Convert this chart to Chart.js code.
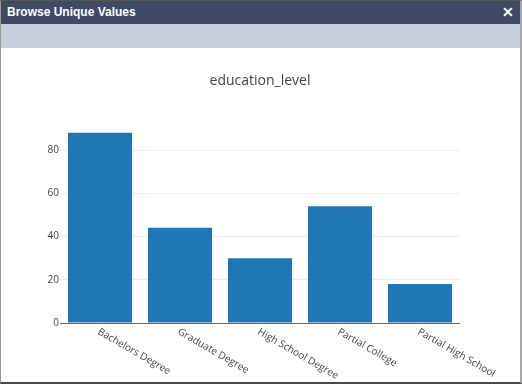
<!DOCTYPE html>
<html>
<head>
<meta charset="utf-8">
<script src="https://cdn.jsdelivr.net/npm/chart.js@4"></script>
<style>
  html, body { margin: 0; padding: 0; background: #fff; }
  #frame { position: absolute; left: 0; top: 0; width: 522px; height: 384px; box-sizing: border-box;
           border-left: 1px solid #9a9a9a; border-right: 2px solid #a8a8a8; border-top: 1px solid #555;
           border-bottom: 2px solid #4a4a4a; background: #fff; overflow: hidden; }
  #hdr { position: absolute; left: 0; top: 0; width: 519px; height: 23px; background: #3e4b67;
         color: #fff; font: bold 12px "Liberation Sans", Arial, sans-serif; }
  #hdr .t { position: absolute; left: 6px; top: 4px; }
  #hdr .x { position: absolute; right: 6px; top: 3px; font-size: 14px; }
  #bar { position: absolute; left: 0; top: 23px; width: 519px; height: 24px; background: #c8cfdc; }
  #wrap { position: absolute; left: 0; top: 47px; width: 518px; height: 334px; }
</style>
</head>
<body>
<div id="frame">
  <div id="hdr"><span class="t">Browse Unique Values</span><span class="x">&#x2715;</span></div>
  <div id="bar"></div>
  <div id="wrap"><canvas id="c" width="518" height="334"></canvas></div>
</div>
<script>
const categories = ["Bachelors Degree", "Graduate Degree", "High School Degree", "Partial College", "Partial High School"];
const counts = [88, 44, 30, 54, 18];
const yTicks = [0, 20, 40, 60, 80];
const chartTitle = "education_level";

const rotatedLabels = {
  id: 'rotatedLabels',
  afterDraw(chart) {
    const ctx = chart.ctx;
    const xs = chart.scales.x;
    const yBase = chart.chartArea.bottom;
    ctx.save();
    ctx.font = '10px "Open Sans"';
    ctx.fillStyle = '#444';
    ctx.textAlign = 'left';
    ctx.textBaseline = 'middle';
    categories.forEach((lab, i) => {
      const px = xs.getPixelForTick(i);
      ctx.save();
      ctx.translate(px - 1.5, yBase + 8);
      ctx.rotate(Math.PI / 6);
      ctx.fillText(lab, 0, 0);
      ctx.restore();
    });
    ctx.restore();
  }
};

new Chart(document.getElementById('c'), {
  type: 'bar',
  data: {
    labels: categories,
    datasets: [{
      data: counts,
      backgroundColor: '#1f77b4',
      borderWidth: 0,
      categoryPercentage: 0.8,
      barPercentage: 1.0
    }]
  },
  options: {
    responsive: false,
    animation: false,
    devicePixelRatio: 1,
    layout: { padding: 0 },
    plugins: {
      legend: { display: false },
      tooltip: { enabled: false },
      title: {
        display: true,
        text: chartTitle,
        color: '#444',
        font: { family: 'Open Sans', size: 14, weight: 'normal', lineHeight: 1.2 },
        padding: { top: 24.3, bottom: 33.6 }
      }
    },
    scales: {
      x: {
        grid: { display: false },
        border: { display: false },
        ticks: { display: false },
        afterFit(s) { s.height = 59; }
      },
      y: {
        min: 0,
        max: 92.63,
        afterBuildTicks(s) { s.ticks = yTicks.map(v => ({ value: v })); },
        ticks: {
          padding: 1,
          color: '#444',
          font: { family: 'Open Sans', size: 10 }
        },
        grid: {
          drawTicks: false,
          color: ctx => (ctx.tick && ctx.tick.value === 0) ? '#666' : '#eeeeee',
          lineWidth: 1
        },
        border: { display: false },
        afterFit(s) { s.width = 59; }
      },
      yRight: {
        position: 'right',
        display: true,
        min: 0,
        max: 1,
        grid: { display: false },
        border: { display: false },
        ticks: { display: false },
        afterFit(s) { s.width = 59; }
      }
    }
  },
  plugins: [rotatedLabels]
});
</script>
</body>
</html>
